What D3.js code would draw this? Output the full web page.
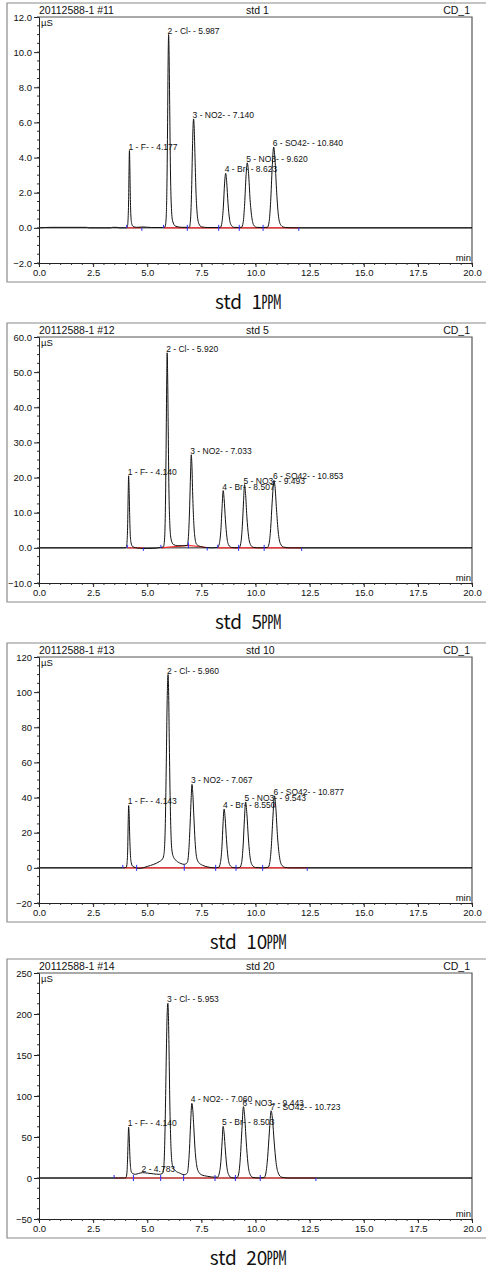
<!DOCTYPE html>
<html><head><meta charset="utf-8">
<script src="https://cdn.jsdelivr.net/npm/d3@7"></script>
<style>
html,body{margin:0;padding:0;background:#fff;}
svg{display:block;}
text{font-family:"Liberation Sans",Arial,sans-serif;}
</style></head><body>
<svg id="chart" width="486" height="1271"></svg>
<script>
// Run headers
const runIds = ["20112588-1 #11", "20112588-1 #12", "20112588-1 #13", "20112588-1 #14"];
const sampleNames = ["std 1", "std 5", "std 10", "std 20"];
const channelNames = ["CD_1", "CD_1", "CD_1", "CD_1"];
const captionNames = ["std 1", "std 5", "std 10", "std 20"];
const captionUnit = "\u33D9";

// Axis ranges and ticks
const timeDomain = [0, 20];
const timeTicks = [0, 2.5, 5, 7.5, 10, 12.5, 15, 17.5, 20];
const signalDomains = [[-2, 12], [-10, 60], [-20, 120], [-50, 250]];
const signalTicks = [
  [-2, 0, 2, 4, 6, 8, 10, 12],
  [-10, 0, 10, 20, 30, 40, 50, 60],
  [-20, 0, 20, 40, 60, 80, 100, 120],
  [-50, 0, 50, 100, 150, 200, 250]
];
const signalTickFormats = [".1f", ".1f", "d", "d"];

// Conductivity traces, [time (min), signal (µS)]
const traceStd1 = [
  [0, 0], [0.6, 0.03], [2.2, 0.03], [2.3, 0], [3.3, 0], [3.4, 0.03], [3.6, 0.03], [3.7, 0], [3.95, 0],
  [4.04, 0], [4.08, 0.05], [4.11, 0.4], [4.14, 1.6], [4.16, 3.4], [4.177, 4.4], [4.195, 3.6], [4.215, 2.0], [4.24, 0.8], [4.28, 0.25], [4.35, 0.08], [4.5, 0.03], [4.8, 0.05], [5.2, 0.02], [5.7, 0.02],
  [5.82, 0.05], [5.87, 0.5], [5.91, 2.5], [5.94, 6.0], [5.965, 9.6], [5.987, 11.0], [6.01, 9.8], [6.04, 6.6], [6.07, 3.4], [6.11, 1.3], [6.17, 0.4], [6.3, 0.1], [6.6, 0.03], [6.9, 0.03],
  [6.95, 0.05], [7.0, 0.5], [7.05, 2.2], [7.09, 4.6], [7.12, 5.9], [7.14, 6.2], [7.165, 5.8], [7.2, 4.3], [7.25, 2.1], [7.3, 0.9], [7.38, 0.25], [7.5, 0.06], [7.8, 0.02], [8.3, 0.02],
  [8.38, 0.03], [8.45, 0.3], [8.52, 1.3], [8.57, 2.5], [8.623, 3.1], [8.67, 2.6], [8.73, 1.4], [8.8, 0.5], [8.88, 0.15], [9.0, 0.03], [9.2, 0.02],
  [9.35, 0.03], [9.43, 0.3], [9.5, 1.4], [9.56, 2.9], [9.62, 3.7], [9.68, 3.1], [9.75, 1.6], [9.83, 0.6], [9.92, 0.15], [10.05, 0.03], [10.3, 0.02],
  [10.55, 0.03], [10.63, 0.35], [10.7, 1.5], [10.77, 3.4], [10.84, 4.6], [10.9, 3.9], [10.97, 2.2], [11.05, 0.8], [11.15, 0.2], [11.3, 0.04], [11.5, 0.01], [12, 0], [20, 0]
];
const traceStd5 = [
  [0, 0], [3.9, 0], [4.0, 0.05],
  [4.03, 0.2], [4.07, 2], [4.1, 8], [4.12, 15.5], [4.14, 20.5], [4.16, 17], [4.185, 10], [4.21, 4.5], [4.25, 1.5], [4.32, 0.4], [4.45, 0.05], [4.7, -0.15], [5.0, -0.2], [5.4, -0.1], [5.6, 0.1],
  [5.75, 0.3], [5.8, 2.5], [5.84, 12], [5.87, 28], [5.9, 48], [5.92, 55.5], [5.94, 50], [5.97, 33], [6.0, 17], [6.04, 7], [6.1, 2.5], [6.2, 1.0], [6.4, 0.6], [6.7, 0.6], [6.85, 0.7],
  [6.91, 4], [6.96, 12], [7.0, 21], [7.033, 26.5], [7.06, 24], [7.1, 15], [7.15, 7], [7.2, 3], [7.28, 1.0], [7.45, 0.4], [7.7, 0.1], [8.0, 0],
  [8.25, 0.1], [8.33, 1.2], [8.4, 5], [8.46, 12], [8.507, 16.3], [8.55, 14], [8.61, 8], [8.68, 3], [8.76, 0.8], [8.9, 0.1], [9.1, 0],
  [9.25, 0.1], [9.32, 1.3], [9.39, 6], [9.45, 13.5], [9.493, 18], [9.54, 15.5], [9.6, 9], [9.68, 3.3], [9.77, 0.9], [9.9, 0.15], [10.2, 0],
  [10.55, 0.1], [10.63, 1.3], [10.7, 5.5], [10.77, 13], [10.853, 19.2], [10.9, 17.5], [10.97, 11], [11.05, 4.5], [11.15, 1.2], [11.3, 0.2], [11.6, 0], [20, 0]
];
const traceStd10 = [
  [0, 0], [3.85, 0],
  [4.03, 0.3], [4.07, 3], [4.1, 12], [4.12, 26], [4.143, 35.5], [4.165, 30], [4.19, 18], [4.22, 8], [4.26, 3], [4.32, 1], [4.45, 0.2], [4.6, -0.3], [4.8, 0], [5.0, 0.8], [5.3, 2], [5.55, 3.5], [5.7, 5], [5.76, 7],
  [5.8, 12], [5.84, 28], [5.88, 60], [5.92, 95], [5.96, 110], [5.99, 98], [6.02, 70], [6.06, 38], [6.1, 18], [6.15, 9], [6.22, 6], [6.35, 4], [6.55, 2.5], [6.7, 2],
  [6.85, 3], [6.92, 10], [6.98, 25], [7.03, 40], [7.067, 47.5], [7.1, 43], [7.15, 30], [7.21, 15], [7.28, 6], [7.38, 3], [7.55, 1.5], [7.8, 0.5], [8.1, 0],
  [8.3, 0.3], [8.38, 3], [8.45, 12], [8.5, 25], [8.55, 33.5], [8.6, 28], [8.66, 16], [8.73, 6], [8.82, 1.5], [8.95, 0.2], [9.15, 0],
  [9.28, 0.3], [9.36, 3], [9.43, 13], [9.49, 28], [9.543, 37.5], [9.6, 31], [9.67, 17], [9.75, 6], [9.85, 1.5], [10.0, 0.2], [10.3, 0],
  [10.58, 0.3], [10.66, 3], [10.73, 12], [10.8, 28], [10.877, 41], [10.94, 34], [11.01, 19], [11.1, 7], [11.2, 1.8], [11.35, 0.3], [11.6, 0], [20, 0]
];
const traceStd20 = [
  [0, 0], [3.9, 0],
  [4.02, 0.5], [4.06, 6], [4.09, 22], [4.115, 45], [4.14, 62], [4.165, 52], [4.19, 32], [4.22, 16], [4.26, 8], [4.32, 5.5], [4.45, 4.5],
  [4.6, 5.5], [4.783, 6.5], [5.0, 6], [5.3, 5], [5.55, 4.5], [5.7, 5.5],
  [5.76, 12], [5.8, 35], [5.84, 85], [5.88, 150], [5.92, 200], [5.953, 213], [5.98, 195], [6.01, 150], [6.04, 95], [6.08, 50], [6.12, 25], [6.18, 14], [6.3, 9], [6.5, 6], [6.7, 4],
  [6.85, 6], [6.9, 15], [6.95, 35], [7.0, 65], [7.06, 91], [7.1, 84], [7.15, 62], [7.21, 34], [7.28, 16], [7.36, 8], [7.5, 4], [7.8, 2], [8.1, 1],
  [8.25, 1], [8.32, 5], [8.4, 20], [8.46, 45], [8.503, 63], [8.55, 55], [8.61, 33], [8.68, 13], [8.76, 4], [8.88, 0.5], [9.05, 0],
  [9.15, 0.5], [9.23, 6], [9.3, 25], [9.37, 58], [9.443, 87], [9.5, 75], [9.57, 45], [9.65, 18], [9.74, 5], [9.87, 0.8], [10.1, 0],
  [10.4, 0.5], [10.48, 6], [10.56, 25], [10.64, 56], [10.723, 82], [10.79, 70], [10.86, 45], [10.95, 19], [11.05, 6], [11.2, 1], [11.5, 0], [20, 0]
];

// Identified peaks: [peak no., ion, retention time (min)]
const peaksStd1 = [[1, "F-", 4.177], [2, "Cl-", 5.987], [3, "NO2-", 7.140], [4, "Br-", 8.623], [5, "NO3-", 9.620], [6, "SO42-", 10.840]];
const peaksStd5 = [[1, "F-", 4.140], [2, "Cl-", 5.920], [3, "NO2-", 7.033], [4, "Br-", 8.507], [5, "NO3-", 9.493], [6, "SO42-", 10.853]];
const peaksStd10 = [[1, "F-", 4.143], [2, "Cl-", 5.960], [3, "NO2-", 7.067], [4, "Br-", 8.550], [5, "NO3-", 9.543], [6, "SO42-", 10.877]];
const peaksStd20 = [[1, "F-", 4.140], [2, "", 4.783], [3, "Cl-", 5.953], [4, "NO2-", 7.060], [5, "Br-", 8.503], [6, "NO3-", 9.443], [7, "SO42-", 10.723]];

// Integration baselines: runs of [time, signal] delimiter points
const baselinesStd1 = [
  [[4.05, 0], [4.75, 0]],
  [[5.75, 0], [6.85, 0], [8.3, 0], [9.25, 0], [10.35, 0], [12.0, 0]]
];
const baselinesStd5 = [
  [[4.08, 0], [4.82, 0]],
  [[5.63, 0], [6.9, 0.7], [7.77, 0.1]],
  [[8.25, 0], [9.22, 0], [10.4, 0], [12.13, 0]]
];
const baselinesStd10 = [
  [[3.87, 0], [4.51, 0], [6.71, 0], [8.16, 0], [9.1, 0], [10.33, 0], [12.39, 0]]
];
const baselinesStd20 = [
  [[3.47, 0], [4.36, 0], [5.62, 0], [6.68, 0], [8.13, 0], [9.07, 0], [10.22, 0], [12.79, 0]]
];

const traces = [traceStd1, traceStd5, traceStd10, traceStd20];
const peakTables = [peaksStd1, peaksStd5, peaksStd10, peaksStd20];
const baselineTables = [baselinesStd1, baselinesStd5, baselinesStd10, baselinesStd20];

// Page layout
const frameTops = [3, 323, 643, 959];
const plotLeft = 39, plotRight = 472, frameLeft = 7;
const plotHeight = 246;

const svg = d3.select("#chart");

frameTops.forEach((frameTop, i) => {
  const g = svg.append("g");
  const plotTop = frameTop + 14;
  const plotBottom = plotTop + plotHeight;
  const frameBottom = plotBottom + 19;

  const x = d3.scaleLinear().domain(timeDomain).range([plotLeft, plotRight]);
  const y = d3.scaleLinear().domain(signalDomains[i]).range([plotBottom, plotTop]);

  // outer frame (open to the right)
  g.append("path")
    .attr("d", `M490,${frameTop}H${frameLeft}V${frameBottom}H490`)
    .attr("fill", "none").attr("stroke", "#8a8a8a").attr("stroke-width", 1.2);

  // plot box top and right edges
  g.append("path")
    .attr("d", `M${plotLeft},${plotTop}H${plotRight}V${plotBottom}`)
    .attr("fill", "none").attr("stroke", "#555").attr("stroke-width", 1.2);

  // header
  g.append("text").attr("x", plotLeft).attr("y", plotTop - 3)
    .attr("font-size", 10.5).attr("fill", "#111").text(runIds[i]);
  g.append("text").attr("x", 246).attr("y", plotTop - 3)
    .attr("font-size", 10.5).attr("fill", "#111").text(sampleNames[i]);
  g.append("text").attr("x", plotRight - 2).attr("y", plotTop - 3).attr("text-anchor", "end")
    .attr("font-size", 10.5).attr("fill", "#111").text(channelNames[i]);

  // zero line
  g.append("line").attr("x1", plotLeft).attr("x2", plotRight)
    .attr("y1", y(0)).attr("y2", y(0)).attr("stroke", "#222").attr("stroke-width", 1);

  // integration baselines
  baselineTables[i].forEach(run => {
    g.append("path").datum(run)
      .attr("d", d3.line().x(d => x(d[0])).y(d => y(d[1])))
      .attr("fill", "none").attr("stroke", "#ff3030").attr("stroke-width", 1.1);
  });

  // signal trace
  g.append("path").datum(traces[i])
    .attr("d", d3.line().x(d => x(d[0])).y(d => y(d[1])).curve(d3.curveMonotoneX))
    .attr("fill", "none").attr("stroke", "#111").attr("stroke-width", 1);

  // peak delimiters
  baselineTables[i].forEach(run => {
    run.forEach((d, k) => {
      const up = k < run.length - 1 ? 3 : 0;
      const down = k > 0 ? 3 : 0;
      g.append("line").attr("x1", x(d[0])).attr("x2", x(d[0]))
        .attr("y1", y(d[1]) - up).attr("y2", y(d[1]) + down)
        .attr("stroke", "#2a2aff").attr("stroke-width", 1);
    });
  });

  // peak labels at the apex of each peak
  peakTables[i].forEach(([no, ion, rt]) => {
    const near = traces[i].filter(d => Math.abs(d[0] - rt) < 0.002);
    const apex = near.length ? near[0][1] : 0;
    const label = ion ? `${no} - ${ion} - ${rt.toFixed(3)}` : `${no} - ${rt.toFixed(3)}`;
    g.append("text").attr("x", x(rt) - 1).attr("y", y(apex) - 1)
      .attr("font-size", 8.5).attr("fill", "#111").text(label);
  });

  // units
  g.append("text").attr("x", plotLeft + 2).attr("y", plotTop + 9)
    .attr("font-size", 9.5).attr("fill", "#111").text("\u00B5S");
  g.append("text").attr("x", plotRight - 1).attr("y", plotBottom - 2).attr("text-anchor", "end")
    .attr("font-size", 9.5).attr("fill", "#111").text("min");

  // y axis
  const yStep = signalTicks[i][1] - signalTicks[i][0];
  const yMinor = d3.range(signalDomains[i][0], signalDomains[i][1] + 1e-9, yStep / 4);
  const yAxis = g.append("g").attr("transform", `translate(${plotLeft},0)`)
    .call(d3.axisLeft(y).tickValues(signalTicks[i]).tickFormat(d3.format(signalTickFormats[i])).tickSize(5).tickPadding(2));
  yAxis.selectAll(".tick line").attr("stroke", "#222");
  yAxis.select(".domain").attr("stroke", "#222");
  yAxis.selectAll("text").attr("font-size", 9.5).attr("fill", "#111").attr("font-family", "Liberation Sans, Arial, sans-serif");
  g.append("g").selectAll("line").data(yMinor).join("line")
    .attr("x1", plotLeft - 2).attr("x2", plotLeft)
    .attr("y1", d => y(d)).attr("y2", d => y(d)).attr("stroke", "#333");

  // x axis
  const xMinor = d3.range(0, 20.0001, 0.5);
  const xAxis = g.append("g").attr("transform", `translate(0,${plotBottom})`)
    .call(d3.axisBottom(x).tickValues(timeTicks).tickFormat(d3.format(".1f")).tickSize(4).tickPadding(2));
  xAxis.selectAll(".tick line").attr("stroke", "#222");
  xAxis.select(".domain").attr("stroke", "#222");
  xAxis.selectAll("text").attr("font-size", 9.5).attr("fill", "#111").attr("font-family", "Liberation Sans, Arial, sans-serif");
  g.append("g").selectAll("line").data(xMinor).join("line")
    .attr("x1", d => x(d)).attr("x2", d => x(d))
    .attr("y1", plotBottom).attr("y2", plotBottom + 2).attr("stroke", "#333");

  // caption below the frame
  const cap = g.append("text").attr("x", 248).attr("y", frameBottom + 27)
    .attr("text-anchor", "middle").attr("fill", "#111")
    .style("font-family", "'Noto Sans CJK KR', sans-serif").attr("font-size", 19);
  cap.append("tspan").style("word-spacing", "5px").text(captionNames[i]);
  cap.append("tspan").text(captionUnit);
});
</script>
</body></html>
